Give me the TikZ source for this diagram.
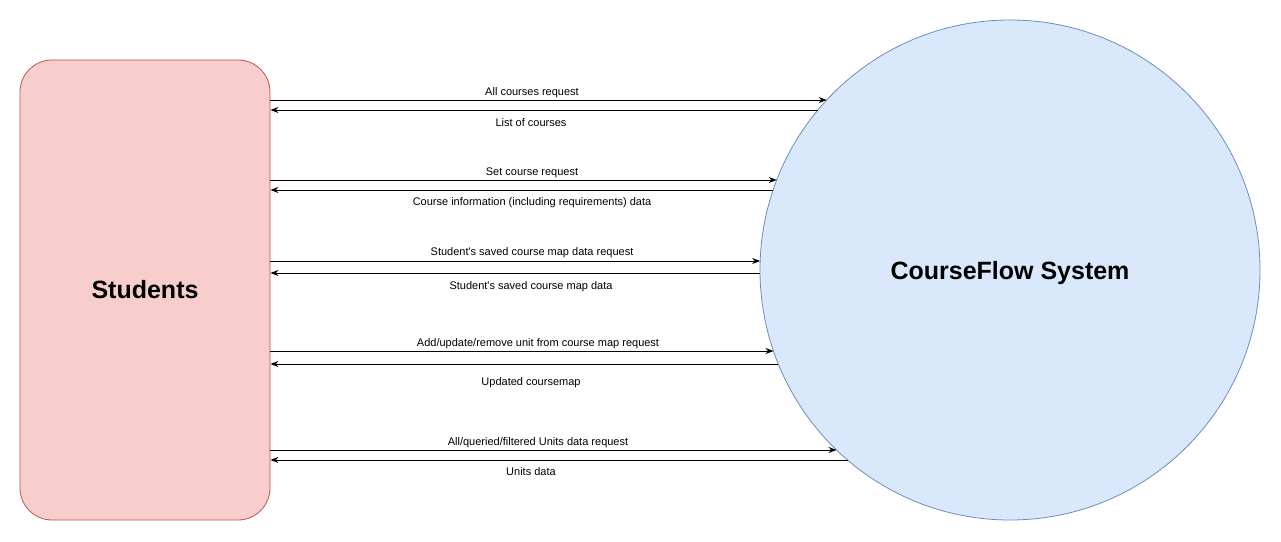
\documentclass[tikz,border=0pt]{standalone}
\usepackage{fontspec}
\setmainfont{Liberation Sans}
\usepackage{xcolor}
\usetikzlibrary{arrows.meta}
\definecolor{studfill}{HTML}{F8CECC}
\definecolor{studline}{HTML}{B85450}
\definecolor{sysfill}{HTML}{DAE8FC}
\definecolor{sysline}{HTML}{6C8EBF}

\begin{document}
\begin{tikzpicture}[x=1pt,y=1pt,
  flow/.style={-{Stealth[length=8pt,width=6pt]}, line width=0.9pt},
  lbl/.style={font=\fontsize{11}{13}\selectfont, inner sep=0pt}]
\useasboundingbox (0,0) rectangle (1281,541);
\node[draw=studline, fill=studfill, line width=0.8pt, rounded corners=32pt,
  minimum width=250pt, minimum height=460pt, inner sep=0pt,
  font=\fontsize{25}{29}\selectfont\bfseries] (students) at (145,251) {Students};
\node[circle, draw=sysline, fill=sysfill, line width=0.8pt, minimum size=500pt,
  inner sep=0pt, text depth=0pt, font=\fontsize{25}{29}\selectfont\bfseries] (sys) at (1010,271) {CourseFlow System};
% points on the circle where the flows meet it
\path (sys.center) ++(137.16:250) coordinate (q1);
\path (sys.center) ++(140.21:250) coordinate (a1);
\path (sys.center) ++(158.90:250) coordinate (q2);
\path (sys.center) ++(161.34:250) coordinate (a2);
\path (sys.center) ++(177.94:250) coordinate (q3);
\path (sys.center) ++(180.69:250) coordinate (a3);
\path (sys.center) ++(198.91:250) coordinate (q4);
\path (sys.center) ++(202.09:250) coordinate (a4);
\path (sys.center) ++(226.05:250) coordinate (q5);
\path (sys.center) ++(229.46:250) coordinate (a5);
% requests and replies
\draw[flow] (students.east |- q1) -- (q1);
\draw[flow] (a1) -- (students.east |- a1);
\draw[flow] (students.east |- q2) -- (q2);
\draw[flow] (a2) -- (students.east |- a2);
\draw[flow] (students.east |- q3) -- (q3);
\draw[flow] (a3) -- (students.east |- a3);
\draw[flow] (students.east |- q4) -- (q4);
\draw[flow] (a4) -- (students.east |- a4);
\draw[flow] (students.east |- q5) -- (q5);
\draw[flow] (a5) -- (students.east |- a5);
% labels
\node[lbl] (lq1) at (532,448) {All courses request};
\node[lbl] (la1) at (531,418) {List of courses};
\node[lbl] (lq2) at (532,368) {Set course request};
\node[lbl] (la2) at (532,338) {Course information (including requirements) data};
\node[lbl] (lq3) at (532,288) {Student\textquotesingle s saved course map data request};
\node[lbl] (la3) at (531,254) {Student\textquotesingle s saved course map data};
\node[lbl] (lq4) at (538,197) {Add/update/remove unit from course map request};
\node[lbl] (la4) at (531,158) {Updated coursemap};
\node[lbl] (lq5) at (538,98) {All/queried/filtered Units data request};
\node[lbl] (la5) at (531,69) {Units data};
\end{tikzpicture}
\end{document}
